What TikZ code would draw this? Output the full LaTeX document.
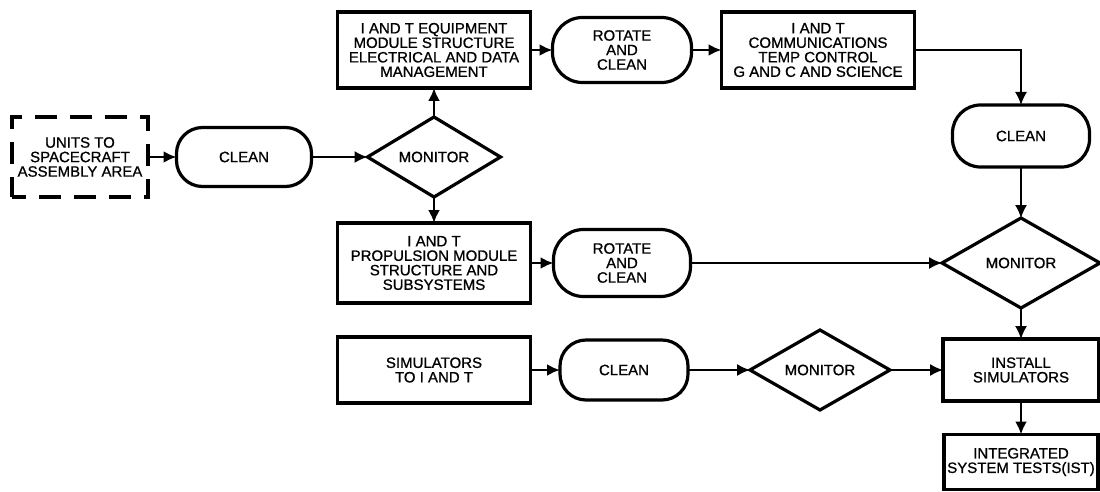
\documentclass[tikz,border=0pt]{standalone}
\usepackage{fontspec}
\setmainfont{Liberation Sans}[FakeBold=0.9]
\usetikzlibrary{shapes.geometric,arrows.meta}

\begin{document}
\begin{tikzpicture}[x=1pt,y=-1pt,
  every node/.style={font=\fontsize{15}{14.5}\selectfont, align=center, inner sep=0pt, outer sep=0pt},
  task/.style={draw, line width=3.2pt, rectangle, minimum width=#1},
  task/.default=193pt,
  cleanbox/.style={draw, line width=3.2pt, rectangle, rounded corners=26pt},
  check/.style={draw, line width=3.2pt, diamond, line join=miter},
  flow/.style={line width=1.8pt, -{Latex[length=13pt,width=12pt]}},
]
\useasboundingbox (0,0) rectangle (1100,492);

% entry point
\node[draw, line width=3.2pt, dash pattern=on 22pt off 13pt, dash phase=8pt,
      minimum width=136pt, minimum height=80pt] (units) at (80,157)
      {UNITS TO\\SPACECRAFT\\ASSEMBLY AREA};
\node[cleanbox, minimum width=135pt, minimum height=59pt] (clean1) at (244,157) {CLEAN};
\node[check, minimum width=133pt, minimum height=80pt, aspect=1.66] (mon1) at (434,157) {MONITOR};

% equipment module branch
\node[task, minimum height=76pt] (equip) at (434,50)
      {I AND T EQUIPMENT\\MODULE STRUCTURE\\ELECTRICAL AND DATA\\MANAGEMENT};
\node[cleanbox, minimum width=139pt, minimum height=65pt, rounded corners=30pt] (rot1) at (622,50) {ROTATE\\AND\\CLEAN};
\node[task, minimum height=76pt] (comm) at (818,50)
      {I AND T\\COMMUNICATIONS\\TEMP CONTROL\\G AND C AND SCIENCE};
\node[cleanbox, minimum width=137pt, minimum height=62pt, rounded corners=28pt] (clean2) at (1021,136) {CLEAN};
\node[check, minimum width=158pt, minimum height=90pt, aspect=1.75] (mon2) at (1021,263) {MONITOR};

% propulsion module branch
\node[task, minimum height=80pt] (prop) at (434,263)
      {I AND T\\PROPULSION MODULE\\STRUCTURE AND\\SUBSYSTEMS};
\node[cleanbox, minimum width=137pt, minimum height=67pt, rounded corners=30pt] (rot2) at (622,263) {ROTATE\\AND\\CLEAN};

% simulators branch
\node[task, minimum height=66pt] (sim) at (434,370) {SIMULATORS\\TO I AND T};
\node[cleanbox, minimum width=128pt, minimum height=60pt] (clean3) at (624,370) {CLEAN};
\node[check, minimum width=140pt, minimum height=80pt, aspect=1.75] (mon3) at (820,370) {MONITOR};
\node[task=156pt, minimum height=62pt] (install) at (1021,370) {INSTALL\\SIMULATORS};
\node[task=154pt, minimum height=55pt] (ist) at (1021,462) {INTEGRATED\\SYSTEM TESTS(IST)};

% connectors
\draw[flow, line width=2.6pt] (units.east) -- (clean1.west);
\draw[flow] (clean1.east) -- (mon1.west);
\draw[flow, line width=2.4pt] (mon1.north) -- (equip.south);
\draw[flow, line width=2.4pt] (mon1.south) -- (prop.north);
\draw[flow, line width=2.4pt] (equip.east) -- (rot1.west);
\draw[flow, line width=2.4pt] (rot1.east) -- (comm.west);
\draw[flow, line width=1.5pt] (comm.east) -| (clean2.north);
\draw[flow, line width=1.5pt] (clean2.south) -- (mon2.north);
\draw[flow, line width=2.4pt] (prop.east) -- (rot2.west);
\draw[flow, line width=1.5pt] (rot2.east) -- (mon2.west);
\draw[flow, line width=1.5pt] (mon2.south) -- (install.north);
\draw[flow, line width=2.4pt] (sim.east) -- (clean3.west);
\draw[flow, line width=1.5pt] (clean3.east) -- (mon3.west);
\draw[flow, line width=1.5pt] (mon3.east) -- (install.west);
\draw[flow, line width=2.4pt] (install.south) -- (ist.north);
\end{tikzpicture}
\end{document}
